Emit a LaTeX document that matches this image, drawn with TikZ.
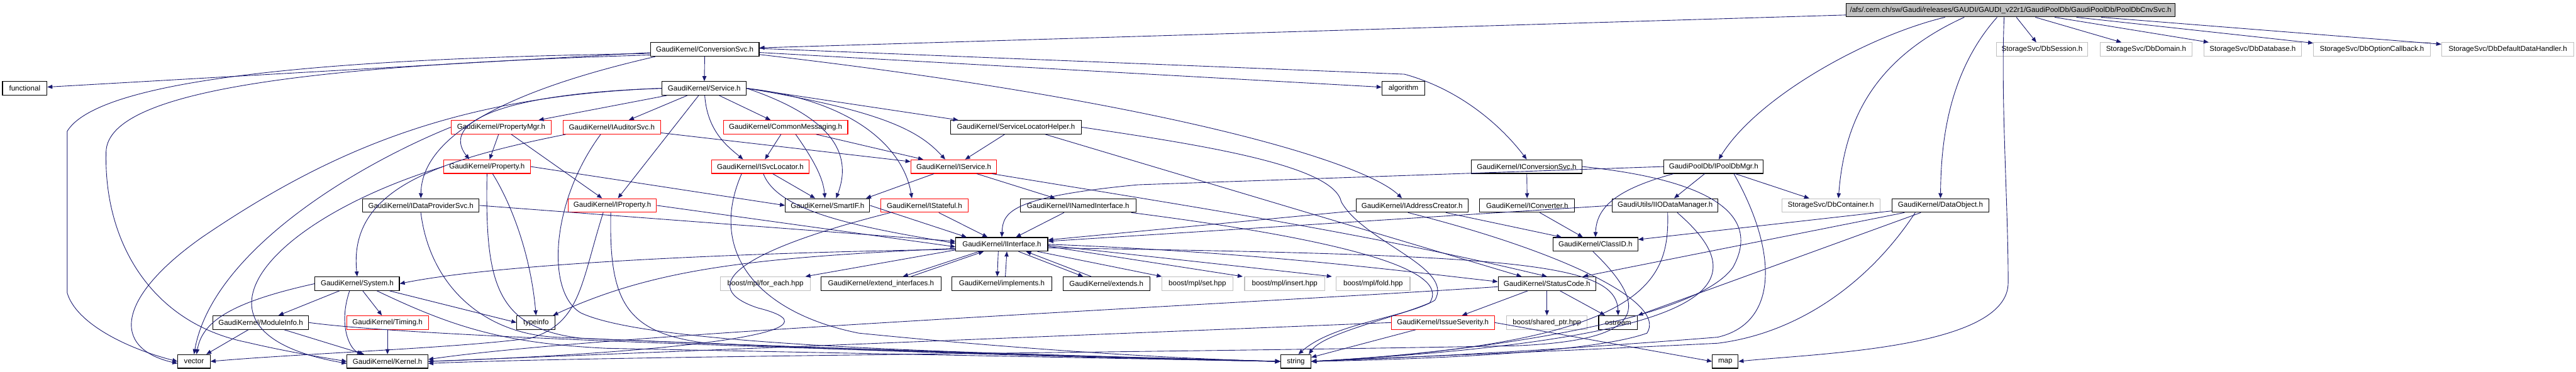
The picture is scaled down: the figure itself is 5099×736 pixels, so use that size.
\documentclass[tikz,border=0pt]{standalone}
\usepackage{fontspec}
\setmainfont{Liberation Sans}
\usetikzlibrary{arrows.meta,calc}
\definecolor{eb}{HTML}{191970}
\definecolor{gb}{HTML}{BFBFBF}
\begin{document}
\begin{tikzpicture}[x=0.5pt,y=-0.5pt,
  bx/.style={draw=black,line width=0.7pt,minimum height=13.5pt,inner sep=0pt,font=\fontsize{7.2}{8}\selectfont},
  rb/.style={bx,draw=red},
  gbx/.style={bx,draw=gb},
  e/.style={draw=eb,line width=0.55pt,-{Triangle[length=5pt,width=4pt]}}]
\useasboundingbox[fill=white] (0,0) rectangle (5099,736);
% row 0
\node[bx,fill=gb,minimum width=325.5pt] (main) at (3980,20) {/afs/.cern.ch/sw/Gaudi/releases/GAUDI/GAUDI\_v22r1/GaudiPoolDb/GaudiPoolDb/PoolDbCnvSvc.h};
% row 1
\node[bx,minimum width=107.5pt] (ConvSvc) at (1395,98) {GaudiKernel/ConversionSvc.h};
\node[gbx,minimum width=90.5pt] (DbSession) at (4042,98) {StorageSvc/DbSession.h};
\node[gbx,minimum width=91pt] (DbDomain) at (4248,98) {StorageSvc/DbDomain.h};
\node[gbx,minimum width=96.5pt] (DbDatabase) at (4459,98) {StorageSvc/DbDatabase.h};
\node[gbx,minimum width=115.5pt] (DbOptionCallback) at (4695,98) {StorageSvc/DbOptionCallback.h};
\node[gbx,minimum width=131pt] (DbDefault) at (4964,98) {StorageSvc/DbDefaultDataHandler.h};
% row 2
\node[bx,minimum width=44pt] (functional) at (49,175) {functional};
\node[bx,minimum width=83.5pt] (Service) at (1394,175) {GaudiKernel/Service.h};
\node[bx,minimum width=42.5pt] (algorithm) at (2778,175) {algorithm};
% row 3
\node[rb,minimum width=99pt] (PropertyMgr) at (992,252) {GaudiKernel/PropertyMgr.h};
\node[rb,minimum width=96.5pt] (IAuditorSvc) at (1211,252) {GaudiKernel/IAuditorSvc.h};
\node[rb,minimum width=123pt] (CommonMessaging) at (1555,252) {GaudiKernel/CommonMessaging.h};
\node[bx,minimum width=129.5pt] (SLHelper) at (2011,252) {GaudiKernel/ServiceLocatorHelper.h};
% row 4
\node[rb,minimum width=86pt] (Property) at (964,330) {GaudiKernel/Property.h};
\node[rb,minimum width=96.5pt] (ISvcLocator) at (1505,330) {GaudiKernel/ISvcLocator.h};
\node[rb,minimum width=85pt] (IService) at (1888,330) {GaudiKernel/IService.h};
\node[bx,minimum width=109.5pt] (IConversionSvc) at (3022,330) {GaudiKernel/IConversionSvc.h};
\node[bx,minimum width=98.5pt] (IPoolDbMgr) at (3392,330) {GaudiPoolDb/IPoolDbMgr.h};
% row 5
\node[bx,minimum width=115.5pt] (IDataProviderSvc) at (833,407) {GaudiKernel/IDataProviderSvc.h};
\node[rb,minimum width=87.5pt] (IProperty) at (1212,407) {GaudiKernel/IProperty.h};
\node[bx,minimum width=83.5pt] (SmartIF) at (1638,407) {GaudiKernel/SmartIF.h};
\node[rb,minimum width=86.5pt] (IStateful) at (1830,407) {GaudiKernel/IStateful.h};
\node[bx,minimum width=114.5pt] (INamedInterface) at (2134,407) {GaudiKernel/INamedInterface.h};
\node[bx,minimum width=111pt] (IAddressCreator) at (2795,407) {GaudiKernel/IAddressCreator.h};
\node[bx,minimum width=94pt] (IConverter) at (3023,407) {GaudiKernel/IConverter.h};
\node[bx,minimum width=104.5pt] (IIODataManager) at (3296,407) {GaudiUtils/IIODataManager.h};
\node[gbx,minimum width=97pt] (DbContainer) at (3624,407) {StorageSvc/DbContainer.h};
\node[bx,minimum width=96pt] (DataObject) at (3841,407) {GaudiKernel/DataObject.h};
% row 6
\node[bx,minimum width=91pt] (IInterface) at (1983,484) {GaudiKernel/IInterface.h};
\node[bx,minimum width=84pt] (ClassID) at (3158,484) {GaudiKernel/ClassID.h};
% row 7
\node[bx,minimum width=83.5pt] (System) at (707,562) {GaudiKernel/System.h};
\node[gbx,minimum width=88.5pt] (foreach) at (1515,562) {boost/mpl/for\_each.hpp};
\node[bx,minimum width=118.5pt] (extendI) at (1744,562) {GaudiKernel/extend\_interfaces.h};
\node[bx,minimum width=98.5pt] (implements) at (1983,562) {GaudiKernel/implements.h};
\node[bx,minimum width=86pt] (extends) at (2190,562) {GaudiKernel/extends.h};
\node[gbx,minimum width=70.5pt] (set) at (2370,562) {boost/mpl/set.hpp};
\node[gbx,minimum width=79.5pt] (insert) at (2543,562) {boost/mpl/insert.hpp};
\node[gbx,minimum width=73pt] (fold) at (2718,562) {boost/mpl/fold.hpp};
\node[bx,minimum width=96.5pt] (StatusCode) at (3062,562) {GaudiKernel/StatusCode.h};
% row 8
\node[bx,minimum width=95pt] (ModuleInfo) at (516,639) {GaudiKernel/ModuleInfo.h};
\node[rb,minimum width=81pt] (Timing) at (767,639) {GaudiKernel/Timing.h};
\node[bx,minimum width=38pt] (typeinfo) at (1061,639) {typeinfo};
\node[rb,minimum width=102pt] (IssueSeverity) at (2856,639) {GaudiKernel/IssueSeverity.h};
\node[gbx,minimum width=79.5pt] (sharedptr) at (3062,639) {boost/shared\_ptr.hpp};
\node[bx,minimum width=38.5pt] (ostream) at (3203,639) {ostream};
% row 9
\node[bx,minimum width=32pt] (vector) at (384,716) {vector};
\node[bx,minimum width=80pt] (Kernel) at (767,716) {GaudiKernel/Kernel.h};
\node[bx,minimum width=30pt] (string) at (2565,716) {string};
\node[bx,minimum width=25.5pt] (map) at (3415,716) {map};

% ---- main
\draw[e] (main) -- (ConvSvc);
\foreach \t in {DbSession,DbDomain,DbDatabase,DbOptionCallback,DbDefault} \draw[e] (main) -- (\t);
\draw[e] ($(main.south)+(-130,0)$) .. controls (3700,70) and (3480,190) .. ($(IPoolDbMgr.north)+(10,0)$);
\draw[e] ($(main.south)+(-92,0)$) .. controls (3700,120) and (3650,250) .. ($(DbContainer.north)+(15,0)$);
\draw[e] ($(main.south)+(-27,0)$) .. controls (3850,150) and (3842,300) .. (DataObject.north);
\draw[e] ($(main.south)+(-13,0)$) .. controls (3960,200) and (3975,400) .. (3975,560) .. controls (3975,690) and (3600,700) .. (map.east);
% ---- ConversionSvc
\draw[e] (ConvSvc) -- (functional);
\draw[e] ($(ConvSvc.west)+(0,8)$) .. controls (700,115) and (200,150) .. (133,260) -- (133,580) .. controls (150,640) and (250,690) .. (vector.west);
\draw[e] ($(ConvSvc.west)+(0,11)$) .. controls (600,130) and (215,180) .. (210,300) .. controls (205,480) and (300,640) .. (488,678) .. controls (560,695) and (620,705) .. (Kernel.west);
\draw[e] (ConvSvc) -- (Service);
\draw[e] (ConvSvc) -- (algorithm);
\draw[e] ($(ConvSvc.east)+(0,-2)$) -- (2780,147) .. controls (2900,180) and (2980,260) .. (IConversionSvc.north);
\draw[e] ($(ConvSvc.east)+(0,10)$) .. controls (2300,200) and (2700,320) .. ($(IAddressCreator.north)+(-20,0)$);
\draw[e] ($(ConvSvc.south)+(-98,0)$) .. controls (1000,180) and (835,270) .. (IDataProviderSvc.north);
% ---- Service
\draw[e] (Service) -- (PropertyMgr);
\draw[e] (Service) -- (IAuditorSvc);
\draw[e] (Service) -- (CommonMessaging);
\draw[e] (Service) .. controls (1400,260) and (1440,290) .. ($(ISvcLocator.north)+(-34,0)$);
\draw[e] (Service.east) -- ($(SLHelper.north west)+(16,0)$);
\draw[e] (Service.east) .. controls (1750,220) and (1820,260) .. ($(IService.north)+(-17,0)$);
\draw[e] (Service) -- (IProperty);
\draw[e] (Service.east) .. controls (1640,230) and (1690,300) .. ($(SmartIF.north)+(17,0)$);
\draw[e] (Service.east) .. controls (1700,200) and (1790,300) .. ($(IStateful.north)+(-25,0)$);
\draw[e] (Service.west) .. controls (1000,185) and (870,240) .. ($(Property.north)+(-35,0)$);
\draw[e] (Service.west) .. controls (900,190) and (650,300) .. (400,470) .. controls (230,590) and (220,690) .. ($(vector.west)+(0,4)$);
% ---- PropertyMgr
\draw[e] (PropertyMgr) -- (Property);
\draw[e] (PropertyMgr) -- (IProperty);
\draw[e] (PropertyMgr.west) .. controls (700,330) and (420,500) .. (vector.north);
% ---- IAuditorSvc
\draw[e] (IAuditorSvc) -- (IService);
\draw[e] ($(IAuditorSvc.south west)+(6,0)$) .. controls (850,320) and (690,380) .. (System.north);
\draw[e] ($(IAuditorSvc.south)+(-22,0)$) .. controls (1090,400) and (1080,580) .. (1150,620) .. controls (1300,690) and (2000,700) .. (string.west);
% ---- CommonMessaging
\draw[e] (CommonMessaging) -- (IService);
\draw[e] (CommonMessaging) -- (ISvcLocator);
\draw[e] ($(CommonMessaging.south)+(20,0)$) .. controls (1620,330) and (1630,360) .. ($(SmartIF.north)+(-5,0)$);
% ---- ServiceLocatorHelper
\draw[e] (SLHelper) -- (IService);
\draw[e] (SLHelper.east) .. controls (2400,290) and (2640,330) .. (2655,400) .. controls (2700,480) and (2880,530) .. (2840,595) .. controls (2780,630) and (2640,640) .. ($(string.north)+(5,0)$);
\draw[e] ($(SLHelper.south)+(58,0)$) -- ($(StatusCode.north)+(-50,0)$);
% ---- Property
\draw[e] (Property.east) -- (SmartIF.west);
\draw[e] ($(Property.south)+(11,0)$) .. controls (1010,400) and (1050,500) .. (typeinfo.north);
\draw[e] (Property.south) .. controls (960,560) and (980,650) .. (1150,670) .. controls (1600,690) and (2300,710) .. (string.west);
\draw[e] (Property.west) .. controls (520,440) and (340,660) .. ($(Kernel.west)+(0,4)$);
% ---- ISvcLocator
\draw[e] (ISvcLocator) -- (SmartIF);
\draw[e] ($(ISvcLocator.south)+(6,0)$) .. controls (1540,420) and (1700,450) .. ($(IInterface.west)+(0,-2)$);
\draw[e] ($(ISvcLocator.south)+(-37,0)$) .. controls (1400,500) and (1500,620) .. (1700,660) .. controls (2000,690) and (2300,710) .. (string.west);
% ---- IService
\draw[e] (IService) -- (INamedInterface);
\draw[e] (IService) -- ($(SmartIF.north east)+(-8,0)$);
\draw[e] ($(IService.south east)+(-10,0)$) .. controls (2300,400) and (2700,460) .. (StatusCode.north);
% ---- IProperty / IDataProviderSvc
\draw[e] (IProperty.east) -- ($(IInterface.west)+(0,5)$);
\draw[e] (IDataProviderSvc.east) -- ($(IInterface.west)+(0,-6)$);
\draw[e] ($(IProperty.south)+(-18,0)$) .. controls (1150,560) and (1150,640) .. (1050,670) .. controls (900,690) and (600,700) .. (vector.east);
\draw[e] ($(IProperty.south)+(-3,0)$) .. controls (1205,600) and (1240,660) .. (1400,680) .. controls (1800,700) and (2300,712) .. (string.west);
\draw[e] (IDataProviderSvc.south) .. controls (850,560) and (950,660) .. (1100,668) .. controls (1600,690) and (2300,712) .. (string.west);
% ---- SmartIF / IStateful / INamedInterface
\draw[e] (SmartIF.east) -- ($(IInterface.north west)+(22,0)$);
\draw[e] (IStateful) -- (IInterface);
\draw[e] ($(IStateful.south west)+(20,0)$) .. controls (1450,500) and (1380,570) .. (1500,610) .. controls (1700,660) and (1300,700) .. (Kernel.east);
\draw[e] (INamedInterface) -- (IInterface);
\draw[e] ($(INamedInterface.south east)+(-10,0)$) .. controls (2700,480) and (2870,540) .. (2830,600) .. controls (2760,630) and (2620,660) .. ($(string.north east)+(-5,0)$);
% ---- IInterface
\draw[e] ($(IInterface.south)+(-45,0)$) -- ($(extendI.north east)+(-76,0)$);
\draw[e] ($(extendI.north east)+(-60,0)$) -- ($(IInterface.south)+(-36,0)$);
\draw[e] ($(IInterface.south)+(-7,0)$) -- ($(implements.north)+(-9,0)$);
\draw[e] ($(implements.north)+(7,0)$) -- ($(IInterface.south)+(10,0)$);
\draw[e] ($(IInterface.south)+(33,0)$) -- ($(extends.north)+(-46,0)$);
\draw[e] ($(extends.north)+(-30,0)$) -- ($(IInterface.south)+(48,0)$);
\draw[e] ($(IInterface.south west)+(0,-3)$) -- ($(foreach.north east)+(-10,0)$);
\draw[e] (IInterface) -- (set);
\draw[e] ($(IInterface.east)+(0,4)$) -- ($(insert.north west)+(-3,0)$);
\draw[e] ($(IInterface.east)+(0,2)$) -- ($(fold.north west)+(-8,0)$);
\draw[e] ($(IInterface.east)+(0,0)$) .. controls (2500,500) and (2800,540) .. ($(StatusCode.west)+(0,-4)$);
\draw[e] ($(IInterface.east)+(0,7)$) .. controls (3000,505) and (3200,520) .. (ostream.north);
\draw[e] ($(IInterface.west)+(0,8)$) .. controls (1500,510) and (1300,530) .. ($(typeinfo.north east)+(-5,0)$);
\draw[e] ($(IInterface.west)+(0,10)$) .. controls (1500,500) and (1000,520) .. (System.east);
% ---- System
\draw[e] (System) -- (ModuleInfo);
\draw[e] (System) -- (Timing);
\draw[e] ($(System.south)+(-15,0)$) .. controls (670,640) and (690,690) .. ($(Kernel.north)+(-50,0)$);
\draw[e] (System.west) .. controls (450,600) and (400,640) .. ($(vector.north)+(5,0)$);
\draw[e] ($(System.south east)+(-20,0)$) -- (typeinfo.west);
\draw[e] ($(System.south east)+(-45,0)$) .. controls (900,650) and (1000,680) .. (1200,690) .. controls (1700,700) and (2300,712) .. (string.west);
% ---- ModuleInfo / Timing
\draw[e] (ModuleInfo) -- (vector);
\draw[e] (ModuleInfo) -- (Kernel);
\draw[e] (ModuleInfo.east) .. controls (800,665) and (1500,690) .. (string.west);
\draw[e] (Timing) -- (Kernel);
% ---- StatusCode / IssueSeverity
\draw[e] (StatusCode) -- (IssueSeverity);
\draw[e] (StatusCode) -- (sharedptr);
\draw[e] (StatusCode) -- (ostream);
\draw[e] ($(StatusCode.west)+(0,6)$) .. controls (2500,600) and (1200,660) .. ($(Kernel.east)+(0,-4)$);
\draw[e] (IssueSeverity.west) -- (Kernel.east);
\draw[e] (IssueSeverity) -- (string);
\draw[e] (IssueSeverity.east) -- (map.west);
% ---- right part
\draw[e] (IAddressCreator) -- (ClassID);
\draw[e] (IAddressCreator) -- (IInterface);
\draw[e] ($(IAddressCreator.south)+(-8,0)$) .. controls (3100,500) and (3300,600) .. (3260,660) .. controls (3150,700) and (2800,712) .. (string.east);
\draw[e] (IConversionSvc) -- (IConverter);
\draw[e] (IConversionSvc.east) .. controls (3420,360) and (3480,440) .. (3430,530) .. controls (3350,640) and (2900,700) .. (string.east);
\draw[e] (IConverter) -- (ClassID);
\draw[e] (IIODataManager.west) -- ($(IInterface.east)+(0,-6)$);
\draw[e] ($(IIODataManager.south)+(5,0)$) .. controls (3305,560) and (3260,680) .. (string.east);
\draw[e] ($(IIODataManager.south)+(24,0)$) .. controls (3480,560) and (3420,670) .. (string.east);
\draw[e] (IPoolDbMgr.west) -- (2253,366) .. controls (2000,390) and (1985,420) .. (IInterface.north);
\draw[e] (IPoolDbMgr) -- (DbContainer);
\draw[e] (IPoolDbMgr) -- (IIODataManager);
\draw[e] ($(IPoolDbMgr.south west)+(20,0)$) .. controls (3200,375) and (3160,410) .. (ClassID.north);
\draw[e] ($(IPoolDbMgr.south)+(40,0)$) .. controls (3520,500) and (3520,640) .. (3400,668) .. controls (3000,700) and (2700,712) .. (string.east);
\draw[e] ($(ClassID.south)+(-5,0)$) .. controls (3280,620) and (3240,675) .. (3000,685) .. controls (2200,700) and (1200,705) .. ($(Kernel.east)+(0,4)$);
\draw[e] (DataObject) -- (ClassID);
\draw[e] (DataObject) -- (StatusCode);
\draw[e] (DataObject) -- (ostream);
\draw[e] ($(DataObject.south)+(-50,0)$) .. controls (3700,560) and (3560,660) .. (3400,680) .. controls (3000,700) and (2700,710) .. (string.east);
\end{tikzpicture}
\end{document}
